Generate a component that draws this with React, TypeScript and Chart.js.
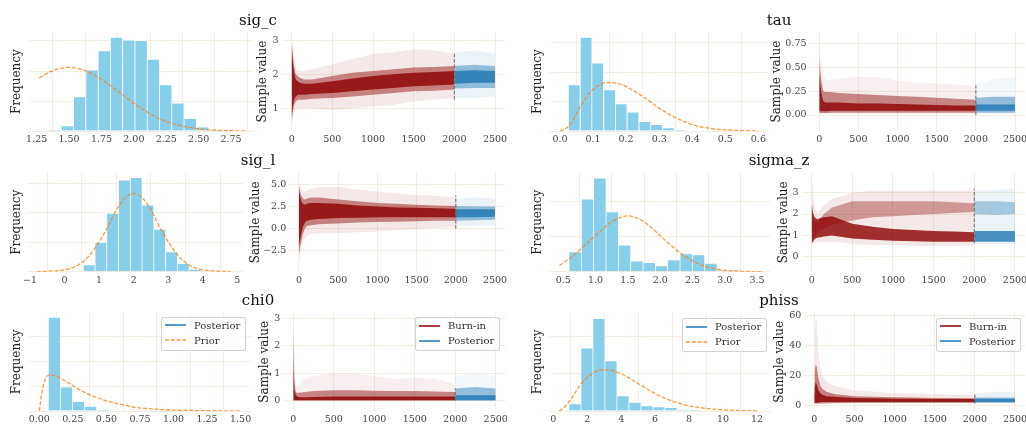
import React, { useEffect, useRef } from "react";
import { Chart, registerables } from "chart.js";

Chart.register(...registerables);

const SERIF = "'DejaVu Serif', 'Liberation Serif', serif";
Chart.defaults.font.family = SERIF;

const SKY = "rgb(135,206,235)";
const PRIOR_COLOR = "rgba(255,127,14,0.8)";
const BURN_RGB = "139,0,0";
const POST_RGB = "31,119,180";
const GRID = "rgba(232,222,196,0.5)";
const TICK = "#444";

const TITLES = ["sig_c", "tau", "sig_l", "sigma_z", "chi0", "phiss"];
const HIST_LEGEND = ["Posterior", "Prior"];
const TRACE_LEGEND = ["Burn-in", "Posterior"];

// ---------- histogram bins (centres) and counts ----------
const SIG_C_BINS = [1.392, 1.487, 1.582, 1.677, 1.772, 1.866, 1.961, 2.056, 2.151, 2.246, 2.34, 2.435, 2.53, 2.625, 2.72];
const SIG_C_COUNTS = [3, 17, 114, 203, 267, 312, 303, 301, 239, 154, 93, 41, 13, 3, 2];
const SIG_C_PRIOR_X = [1.27, 1.32, 1.38, 1.44, 1.5, 1.56, 1.62, 1.7, 1.8, 1.9, 2.0, 2.1, 2.2, 2.3, 2.4, 2.5, 2.6, 2.7, 2.8, 2.87];
const SIG_C_PRIOR_Y = [177, 190, 202, 209, 212, 209, 202, 186, 157, 125, 92, 64, 41, 25, 14, 7, 3.5, 1.6, 0.7, 0.4];

const TAU_BINS = [0.043, 0.079, 0.114, 0.15, 0.185, 0.221, 0.257, 0.292, 0.328, 0.363];
const TAU_COUNTS = [157, 319, 231, 140, 92, 64, 32, 22, 11, 3];
const TAU_PRIOR_X = [0, 0.02, 0.04, 0.06, 0.08, 0.1, 0.12, 0.14, 0.16, 0.18, 0.2, 0.23, 0.26, 0.3, 0.34, 0.38, 0.42, 0.46, 0.5, 0.55, 0.6];
const TAU_PRIOR_Y = [0, 10, 38, 80, 115, 141, 157, 165, 165, 160, 151, 132, 110, 78, 51, 30, 16, 8, 4, 1.5, 0.5];

const SIG_L_BINS = [0.713, 1.053, 1.393, 1.733, 2.073, 2.413, 2.753, 3.093, 3.433, 3.773, 4.113];
const SIG_L_COUNTS = [23, 100, 198, 311, 320, 226, 144, 67, 28, 8, 3];
const SIG_L_PRIOR_X = [-0.8, -0.5, -0.2, 0.1, 0.4, 0.7, 1.0, 1.25, 1.5, 1.75, 2.0, 2.25, 2.5, 2.75, 3.0, 3.3, 3.6, 3.9, 4.2, 4.5, 4.8];
const SIG_L_PRIOR_Y = [0.5, 1.5, 4, 9, 23, 53, 102, 152, 210, 250, 266, 250, 210, 152, 102, 53, 23, 9, 4, 1.5, 0.5];

const SIGMA_Z_BINS = [0.684, 0.875, 1.066, 1.257, 1.448, 1.639, 1.83, 2.021, 2.212, 2.403, 2.594, 2.785, 2.976, 3.167, 3.358];
const SIGMA_Z_COUNTS = [57, 208, 268, 171, 76, 30, 26, 17, 34, 51, 48, 24, 3, 3, 1];
const SIGMA_Z_PRIOR_X = [0.44, 0.6, 0.8, 1.0, 1.2, 1.35, 1.5, 1.65, 1.8, 2.0, 2.2, 2.4, 2.6, 2.8, 3.0, 3.2, 3.4, 3.6];
const SIGMA_Z_PRIOR_Y = [18, 38, 70, 103, 136, 153, 160, 153, 136, 103, 70, 42, 22, 10, 4, 1.5, 0.5, 0.2];

const CHI0_BINS = [0.112, 0.202, 0.292, 0.382, 0.473, 0.563];
const CHI0_COUNTS = [378, 96, 38, 19, 4, 2];
const CHI0_PRIOR_X = [0, 0.015, 0.03, 0.05, 0.08, 0.11, 0.15, 0.2, 0.25, 0.3, 0.35, 0.4, 0.5, 0.6, 0.7, 0.8, 0.9, 1.0, 1.1, 1.2, 1.35, 1.5];
const CHI0_PRIOR_Y = [0, 60, 105, 135, 146, 144, 135, 119, 102, 86, 72, 60, 41, 28, 16, 10, 6.5, 3.5, 2.5, 1.6, 0.9, 0.5];

const PHISS_BINS = [1.277, 1.984, 2.69, 3.397, 4.104, 4.811, 5.518, 6.225, 6.932, 7.639, 8.346];
const PHISS_COUNTS = [19, 169, 249, 135, 41, 23, 14, 11, 9, 3, 2];
const PHISS_PRIOR_X = [0.35, 0.7, 1.0, 1.3, 1.6, 2.0, 2.4, 2.8, 3.2, 3.6, 4.0, 4.5, 5.0, 5.5, 6.0, 6.5, 7.0, 8.0, 9.0, 10.0, 11.0, 12.0];
const PHISS_PRIOR_Y = [0, 12, 30, 50, 70, 90, 104, 111, 111, 107, 100, 88, 74, 60, 47, 36, 27, 14, 7, 3, 1.3, 0.5];

// ---------- trace envelopes: iterations and band limits ----------
const BURN_ITERS = [0, 5, 15, 30, 50, 75, 100, 150, 250, 500, 750, 1000, 1250, 1500, 1750, 2000];
const POST_ITERS = [2000, 2250, 2500];

const SIG_C_BURN_OUTER_LO = [0.45, 0.5, 0.7, 0.9, 1.0, 1.0, 1.0, 1.0, 1.0, 0.95, 1.0, 1.05, 1.1, 1.2, 1.25, 1.3];
const SIG_C_BURN_OUTER_HI = [3.1, 3.05, 2.8, 2.5, 2.2, 2.1, 2.1, 2.1, 2.15, 2.3, 2.45, 2.6, 2.65, 2.75, 2.7, 2.6];
const SIG_C_BURN_MID_LO = [0.6, 0.7, 0.9, 1.1, 1.2, 1.25, 1.25, 1.25, 1.28, 1.3, 1.35, 1.4, 1.45, 1.5, 1.52, 1.55];
const SIG_C_BURN_MID_HI = [2.95, 2.85, 2.55, 2.25, 2.0, 1.95, 1.9, 1.85, 1.85, 1.95, 2.05, 2.1, 2.15, 2.2, 2.22, 2.25];
const SIG_C_BURN_CORE_LO = [0.75, 0.85, 1.05, 1.25, 1.35, 1.4, 1.4, 1.4, 1.42, 1.45, 1.5, 1.55, 1.6, 1.65, 1.67, 1.7];
const SIG_C_BURN_CORE_HI = [2.8, 2.65, 2.35, 2.05, 1.85, 1.8, 1.75, 1.72, 1.72, 1.8, 1.88, 1.95, 2.0, 2.05, 2.07, 2.1];
const SIG_C_POST_OUTER_LO = [1.3, 1.3, 1.35];
const SIG_C_POST_OUTER_HI = [2.65, 2.7, 2.6];
const SIG_C_POST_MID_LO = [1.58, 1.6, 1.6];
const SIG_C_POST_MID_HI = [2.25, 2.28, 2.25];
const SIG_C_POST_CORE_LO = [1.72, 1.75, 1.75];
const SIG_C_POST_CORE_HI = [2.1, 2.12, 2.1];
const SIG_C_VLINE = [1.25, 2.65];

const TAU_BURN_OUTER_LO = [0.01, 0.01, 0.01, 0.01, 0.01, 0.01, 0.01, 0.01, 0.01, 0.01, 0.01, 0.01, 0.01, 0.01, 0.01, 0.01];
const TAU_BURN_OUTER_HI = [0.72, 0.7, 0.65, 0.55, 0.42, 0.38, 0.37, 0.37, 0.38, 0.4, 0.4, 0.36, 0.34, 0.33, 0.32, 0.3];
const TAU_BURN_MID_LO = [0.02, 0.02, 0.02, 0.02, 0.02, 0.02, 0.02, 0.025, 0.025, 0.025, 0.025, 0.025, 0.025, 0.025, 0.025, 0.025];
const TAU_BURN_MID_HI = [0.6, 0.55, 0.45, 0.35, 0.25, 0.24, 0.24, 0.24, 0.23, 0.22, 0.21, 0.2, 0.19, 0.18, 0.17, 0.16];
const TAU_BURN_CORE_LO = [0.04, 0.04, 0.04, 0.04, 0.04, 0.04, 0.04, 0.045, 0.045, 0.045, 0.045, 0.045, 0.045, 0.045, 0.045, 0.045];
const TAU_BURN_CORE_HI = [0.45, 0.4, 0.3, 0.22, 0.15, 0.13, 0.13, 0.13, 0.13, 0.12, 0.12, 0.115, 0.11, 0.105, 0.1, 0.1];
const TAU_POST_OUTER_LO = [0.01, 0.01, 0.01];
const TAU_POST_OUTER_HI = [0.33, 0.38, 0.4];
const TAU_POST_MID_LO = [0.025, 0.025, 0.025];
const TAU_POST_MID_HI = [0.18, 0.19, 0.19];
const TAU_POST_CORE_LO = [0.045, 0.045, 0.045];
const TAU_POST_CORE_HI = [0.11, 0.11, 0.11];
const TAU_VLINE = [0.0, 0.31];

const SIG_L_BURN_OUTER_LO = [-3.7, -3.5, -3.0, -2.3, -1.5, -1.0, -0.8, -0.6, -0.5, -0.5, -0.4, -0.3, -0.2, 0.0, 0.1, 0.2];
const SIG_L_BURN_OUTER_HI = [5.6, 5.4, 5.0, 4.5, 4.2, 4.2, 4.3, 4.5, 4.7, 4.7, 4.4, 4.2, 4.0, 3.8, 3.7, 3.5];
const SIG_L_BURN_MID_LO = [-2.8, -2.5, -2.0, -1.4, -0.6, 0.0, 0.3, 0.4, 0.5, 0.6, 0.7, 0.75, 0.8, 0.85, 0.9, 0.9];
const SIG_L_BURN_MID_HI = [4.8, 4.6, 4.2, 3.7, 3.4, 3.3, 3.4, 3.5, 3.5, 3.3, 3.1, 2.9, 2.8, 2.7, 2.6, 2.55];
const SIG_L_BURN_CORE_LO = [-2.0, -1.7, -1.2, -0.6, 0.2, 0.7, 0.9, 1.0, 1.1, 1.2, 1.25, 1.3, 1.3, 1.3, 1.3, 1.3];
const SIG_L_BURN_CORE_HI = [4.2, 4.0, 3.6, 3.1, 2.8, 2.7, 2.8, 2.9, 2.9, 2.8, 2.6, 2.5, 2.4, 2.35, 2.3, 2.25];
const SIG_L_POST_OUTER_LO = [0.3, 0.3, 0.4];
const SIG_L_POST_OUTER_HI = [3.4, 3.5, 3.4];
const SIG_L_POST_MID_LO = [0.9, 0.95, 1.0];
const SIG_L_POST_MID_HI = [2.55, 2.5, 2.5];
const SIG_L_POST_CORE_LO = [1.3, 1.3, 1.35];
const SIG_L_POST_CORE_HI = [2.2, 2.2, 2.2];
const SIG_L_VLINE = [0.0, 3.75];

// sigma_z: "mid" is the upper mode, "core" the dense lower mode
const SIGMA_Z_BURN_OUTER_LO = [0.45, 0.5, 0.55, 0.6, 0.65, 0.7, 0.7, 0.7, 0.7, 0.6, 0.55, 0.55, 0.5, 0.5, 0.5, 0.55];
const SIGMA_Z_BURN_OUTER_HI = [3.8, 3.6, 3.0, 2.5, 2.2, 2.1, 2.2, 2.4, 2.7, 3.0, 3.1, 3.1, 3.1, 3.1, 3.1, 3.1];
const SIGMA_Z_BURN_MID_LO = [0.9, 0.9, 0.9, 1.0, 1.0, 1.1, 1.2, 1.3, 1.5, 1.7, 1.85, 1.9, 1.95, 2.0, 2.05, 2.1];
const SIGMA_Z_BURN_MID_HI = [2.2, 2.0, 1.8, 1.7, 1.6, 1.6, 1.75, 2.0, 2.3, 2.6, 2.6, 2.6, 2.6, 2.6, 2.55, 2.5];
const SIGMA_Z_BURN_CORE_LO = [0.6, 0.65, 0.7, 0.8, 0.85, 0.9, 0.9, 0.95, 1.0, 0.85, 0.8, 0.75, 0.72, 0.7, 0.7, 0.7];
const SIGMA_Z_BURN_CORE_HI = [2.6, 2.4, 2.1, 1.9, 1.8, 1.75, 1.8, 1.85, 1.9, 1.55, 1.4, 1.3, 1.25, 1.2, 1.18, 1.15];
const SIGMA_Z_POST_OUTER_LO = [0.6, 0.6, 0.6];
const SIGMA_Z_POST_OUTER_HI = [3.1, 3.1, 3.2];
const SIGMA_Z_POST_MID_LO = [2.0, 1.95, 2.0];
const SIGMA_Z_POST_MID_HI = [2.6, 2.6, 2.55];
const SIGMA_Z_POST_CORE_LO = [0.7, 0.7, 0.7];
const SIGMA_Z_POST_CORE_HI = [1.2, 1.2, 1.2];
const SIGMA_Z_VLINE = [0.63, 3.2];

const CHI0_BURN_OUTER_LO = [0, 0, 0, 0, 0, 0, 0, 0, 0, 0, 0, 0, 0, 0, 0, 0];
const CHI0_BURN_OUTER_HI = [3.1, 2.4, 1.2, 0.6, 0.55, 0.6, 0.7, 0.8, 0.9, 1.0, 1.0, 0.9, 0.8, 0.85, 0.8, 0.6];
const CHI0_BURN_MID_LO = [0.005, 0.005, 0.005, 0.005, 0.005, 0.005, 0.005, 0.005, 0.005, 0.005, 0.005, 0.005, 0.005, 0.005, 0.005, 0.005];
const CHI0_BURN_MID_HI = [2.6, 1.7, 0.65, 0.32, 0.28, 0.3, 0.3, 0.32, 0.35, 0.38, 0.38, 0.36, 0.35, 0.35, 0.34, 0.32];
const CHI0_BURN_CORE_LO = [0.02, 0.02, 0.02, 0.02, 0.02, 0.02, 0.02, 0.02, 0.02, 0.02, 0.02, 0.02, 0.02, 0.02, 0.02, 0.02];
const CHI0_BURN_CORE_HI = [2.0, 1.1, 0.4, 0.2, 0.15, 0.13, 0.13, 0.13, 0.14, 0.15, 0.15, 0.15, 0.15, 0.15, 0.15, 0.15];
const CHI0_POST_OUTER_LO = [0, 0, 0];
const CHI0_POST_OUTER_HI = [0.9, 1.0, 0.9];
const CHI0_POST_MID_LO = [0.005, 0.005, 0.005];
const CHI0_POST_MID_HI = [0.45, 0.5, 0.45];
const CHI0_POST_CORE_LO = [0.02, 0.02, 0.02];
const CHI0_POST_CORE_HI = [0.2, 0.2, 0.2];
const CHI0_VLINE = [0.0, 0.45];

const PHISS_BURN_OUTER_LO = [0.5, 0.5, 0.5, 0.5, 0.5, 0.5, 0.5, 0.8, 0.8, 1, 1, 1, 1, 1, 1, 1];
const PHISS_BURN_OUTER_HI = [20, 40, 55, 58, 35, 25, 20, 16, 13, 10, 9, 8, 8, 7.5, 7, 7];
const PHISS_BURN_MID_LO = [1, 1, 1, 1, 1, 1, 1, 1.2, 1.3, 1.5, 1.5, 1.5, 1.5, 1.5, 1.5, 1.5];
const PHISS_BURN_MID_HI = [12, 22, 27, 26, 18, 13, 11, 9, 7.5, 6, 5.5, 5.2, 5, 4.8, 4.7, 4.6];
const PHISS_BURN_CORE_LO = [1.5, 1.5, 1.5, 1.5, 1.5, 2, 2, 2, 2, 2, 2, 2, 2, 2, 2, 2];
const PHISS_BURN_CORE_HI = [8, 12, 15, 14, 10, 8, 7, 6, 5.5, 4.8, 4.5, 4.3, 4.2, 4.1, 4.0, 4.0];
const PHISS_POST_OUTER_LO = [1, 1, 1];
const PHISS_POST_OUTER_HI = [8, 9, 9];
const PHISS_POST_MID_LO = [1.5, 1.5, 1.5];
const PHISS_POST_MID_HI = [5, 5, 5];
const PHISS_POST_CORE_LO = [2, 2, 2];
const PHISS_POST_CORE_HI = [4.2, 4.2, 4.2];
const PHISS_VLINE = [1.0, 8.0];

// ---------- helpers ----------
const pts = (xs: number[], ys: number[]) => xs.map((x, i) => ({ x, y: ys[i] }));

function fmt(v: number, d: number) {
  const n = Math.abs(v) < 1e-9 ? 0 : Number(v);
  const s = n.toFixed(d);
  return s.startsWith("-") ? "\u2212" + s.slice(1) : s;
}

// tick values at multiples of step inside [min, max]
function stepTicks(min: number, max: number, step: number) {
  const out: { value: number }[] = [];
  for (let k = Math.ceil(min / step - 1e-9); k * step <= max + 1e-9; k++) {
    out.push({ value: Number((k * step).toFixed(6)) });
  }
  return out;
}

function axes(g: any, o: any) {
  const tickFont = { family: SERIF, size: 9.5 };
  const grid = { color: GRID, lineWidth: 1, drawTicks: false };
  return {
    x: {
      type: "linear",
      min: o.xMin,
      max: o.xMax,
      offset: false,
      afterBuildTicks: (s: any) => {
        s.ticks = stepTicks(o.xMin, o.xMax, o.xStep);
      },
      afterFit: (s: any) => {
        s.height = g.xAxisH;
      },
      grid,
      border: { display: false },
      ticks: {
        autoSkip: false,
        maxRotation: 0,
        padding: 3,
        color: TICK,
        font: tickFont,
        callback: (v: any) => fmt(v, o.xDec),
      },
    },
    y: {
      type: "linear",
      min: o.yMin,
      max: o.yMax,
      afterBuildTicks: (s: any) => {
        s.ticks = stepTicks(o.yMin, o.yMax, o.yStep);
      },
      afterFit: (s: any) => {
        s.width = g.yAxisW;
      },
      grid,
      border: { display: false },
      ticks: {
        display: o.yLabels,
        autoSkip: false,
        padding: 3,
        color: TICK,
        font: tickFont,
        callback: (v: any) => fmt(v, o.yDec),
      },
      title: {
        display: true,
        text: o.yTitle,
        color: "#222",
        font: { family: SERIF, size: 12 },
        padding: { top: g.titlePad, bottom: 0 },
      },
    },
  };
}

function baseOptions(g: any, scales: any) {
  return {
    responsive: false,
    animation: false,
    devicePixelRatio: 1,
    layout: { padding: { top: g.padTop, right: g.padRight, left: 0, bottom: 0 } },
    plugins: { legend: { display: false }, tooltip: { enabled: false } },
    scales,
  };
}

function histConfig(h: any) {
  return (g: any) => ({
    type: "bar",
    data: {
      datasets: [
        {
          type: "line",
          data: pts(h.priorX, h.priorY),
          borderColor: PRIOR_COLOR,
          borderWidth: 1.3,
          borderDash: [4, 1.8],
          pointRadius: 0,
          fill: false,
          cubicInterpolationMode: "monotone",
          order: 0,
        },
        {
          type: "bar",
          data: pts(h.bins, h.counts),
          backgroundColor: SKY,
          borderColor: "rgba(255,255,255,0.9)",
          borderWidth: { left: 0.7, right: 0.7, top: 0.7, bottom: 0 },
          barPercentage: 1,
          categoryPercentage: 1,
          order: 1,
        },
      ],
    },
    options: baseOptions(
      g,
      axes(g, { ...h, yMin: 0, yStep: 100, yLabels: false, yTitle: "Frequency" })
    ),
  });
}

function traceConfig(t: any) {
  return (g: any) => {
    const datasets: any[] = [
      {
        data: pts([2000, 2000], t.vline),
        borderColor: "rgba(85,85,85,0.85)",
        borderWidth: 1,
        borderDash: [3.7, 1.6],
        pointRadius: 0,
        fill: false,
        order: 0,
      },
    ];
    const addBand = (xs: number[], lo: number[], hi: number[], rgb: string, a: number, order: number) => {
      datasets.push({ data: pts(xs, lo), borderColor: "transparent", borderWidth: 0, pointRadius: 0, fill: false, order });
      datasets.push({
        data: pts(xs, hi),
        borderColor: "transparent",
        borderWidth: 0,
        pointRadius: 0,
        fill: "-1",
        backgroundColor: `rgba(${rgb},${a})`,
        order,
      });
    };
    t.post.forEach((b: number[][], k: number) => addBand(POST_ITERS, b[0], b[1], POST_RGB, t.alphas[k], 1));
    t.burn.forEach((b: number[][], k: number) => addBand(BURN_ITERS, b[0], b[1], BURN_RGB, t.alphas[k], 2));
    return {
      type: "line",
      data: { datasets },
      options: baseOptions(
        g,
        axes(g, { ...t, xMin: -125, xMax: 2625, xStep: 500, xDec: 0, yLabels: true, yTitle: "Sample value" })
      ),
    };
  };
}

// ---------- panel layout ----------
const ROW1 = { y0: 32.3, y1: 131 };
const ROW2 = { y0: 172.8, y1: 271.7 };
const ROW3 = { y0: 312.6, y1: 411 };
const STD_ALPHAS = [0.09, 0.45, 0.8];
const SPARSE_ALPHAS = [0.06, 0.45, 0.8];

const PANELS: any[] = [
  {
    rect: { x0: 28.5, x1: 253.1, ...ROW1 }, titleX: 17,
    make: histConfig({ bins: SIG_C_BINS, counts: SIG_C_COUNTS, priorX: SIG_C_PRIOR_X, priorY: SIG_C_PRIOR_Y, xMin: 1.187, xMax: 2.92, xStep: 0.25, xDec: 2, yMax: 329 }),
  },
  {
    rect: { x0: 281.5, x1: 505.2, ...ROW1 }, titleX: 263,
    make: traceConfig({
      burn: [[SIG_C_BURN_OUTER_LO, SIG_C_BURN_OUTER_HI], [SIG_C_BURN_MID_LO, SIG_C_BURN_MID_HI], [SIG_C_BURN_CORE_LO, SIG_C_BURN_CORE_HI]],
      post: [[SIG_C_POST_OUTER_LO, SIG_C_POST_OUTER_HI], [SIG_C_POST_MID_LO, SIG_C_POST_MID_HI], [SIG_C_POST_CORE_LO, SIG_C_POST_CORE_HI]],
      alphas: STD_ALPHAS, vline: SIG_C_VLINE, yMin: 0.33, yMax: 3.24, yStep: 1, yDec: 0,
    }),
  },
  {
    rect: { x0: 549.4, x1: 768.3, ...ROW1 }, titleX: 537.5,
    make: histConfig({ bins: TAU_BINS, counts: TAU_COUNTS, priorX: TAU_PRIOR_X, priorY: TAU_PRIOR_Y, xMin: -0.032, xMax: 0.63, xStep: 0.1, xDec: 1, yMax: 336 }),
  },
  {
    rect: { x0: 809.5, x1: 1024.8, ...ROW1 }, titleX: 777,
    make: traceConfig({
      burn: [[TAU_BURN_OUTER_LO, TAU_BURN_OUTER_HI], [TAU_BURN_MID_LO, TAU_BURN_MID_HI], [TAU_BURN_CORE_LO, TAU_BURN_CORE_HI]],
      post: [[TAU_POST_OUTER_LO, TAU_POST_OUTER_HI], [TAU_POST_MID_LO, TAU_POST_MID_HI], [TAU_POST_CORE_LO, TAU_POST_CORE_HI]],
      alphas: SPARSE_ALPHAS, vline: TAU_VLINE, yMin: -0.167, yMax: 0.865, yStep: 0.25, yDec: 2,
    }),
  },
  {
    rect: { x0: 28.3, x1: 243.2, ...ROW2 }, titleX: 17,
    make: histConfig({ bins: SIG_L_BINS, counts: SIG_L_COUNTS, priorX: SIG_L_PRIOR_X, priorY: SIG_L_PRIOR_Y, xMin: -1.05, xMax: 5.17, xStep: 1, xDec: 0, yMax: 336 }),
  },
  {
    rect: { x0: 289.2, x1: 504.8, ...ROW2 }, titleX: 255.8,
    make: traceConfig({
      burn: [[SIG_L_BURN_OUTER_LO, SIG_L_BURN_OUTER_HI], [SIG_L_BURN_MID_LO, SIG_L_BURN_MID_HI], [SIG_L_BURN_CORE_LO, SIG_L_BURN_CORE_HI]],
      post: [[SIG_L_POST_OUTER_LO, SIG_L_POST_OUTER_HI], [SIG_L_POST_MID_LO, SIG_L_POST_MID_HI], [SIG_L_POST_CORE_LO, SIG_L_POST_CORE_HI]],
      alphas: STD_ALPHAS, vline: SIG_L_VLINE, yMin: -4.83, yMax: 6.29, yStep: 2.5, yDec: 1,
    }),
  },
  {
    rect: { x0: 549.3, x1: 770.0, ...ROW2 }, titleX: 537.5,
    make: histConfig({ bins: SIGMA_Z_BINS, counts: SIGMA_Z_COUNTS, priorX: SIGMA_Z_PRIOR_X, priorY: SIGMA_Z_PRIOR_Y, xMin: 0.283, xMax: 3.7, xStep: 0.5, xDec: 1, yMax: 283 }),
  },
  {
    rect: { x0: 801.5, x1: 1025.1, ...ROW2 }, titleX: 784,
    make: traceConfig({
      burn: [[SIGMA_Z_BURN_OUTER_LO, SIGMA_Z_BURN_OUTER_HI], [SIGMA_Z_BURN_MID_LO, SIGMA_Z_BURN_MID_HI], [SIGMA_Z_BURN_CORE_LO, SIGMA_Z_BURN_CORE_HI]],
      post: [[SIGMA_Z_POST_OUTER_LO, SIGMA_Z_POST_OUTER_HI], [SIGMA_Z_POST_MID_LO, SIGMA_Z_POST_MID_HI], [SIGMA_Z_POST_CORE_LO, SIGMA_Z_POST_CORE_HI]],
      alphas: [0.09, 0.35, 0.8], vline: SIGMA_Z_VLINE, yMin: -0.7, yMax: 3.93, yStep: 1, yDec: 0,
    }),
  },
  {
    rect: { x0: 28.6, x1: 250.7, ...ROW3 }, titleX: 17,
    make: histConfig({ bins: CHI0_BINS, counts: CHI0_COUNTS, priorX: CHI0_PRIOR_X, priorY: CHI0_PRIOR_Y, xMin: -0.08, xMax: 1.575, xStep: 0.25, xDec: 2, yMax: 397 }),
    legend: { left: 161, top: 316.7, labels: HIST_LEGEND, colors: [`rgb(${POST_RGB})`, PRIOR_COLOR], dashed: [false, true] },
  },
  {
    rect: { x0: 283.2, x1: 505.8, ...ROW3 }, titleX: 265,
    make: traceConfig({
      burn: [[CHI0_BURN_OUTER_LO, CHI0_BURN_OUTER_HI], [CHI0_BURN_MID_LO, CHI0_BURN_MID_HI], [CHI0_BURN_CORE_LO, CHI0_BURN_CORE_HI]],
      post: [[CHI0_POST_OUTER_LO, CHI0_POST_OUTER_HI], [CHI0_POST_MID_LO, CHI0_POST_MID_HI], [CHI0_POST_CORE_LO, CHI0_POST_CORE_HI]],
      alphas: SPARSE_ALPHAS, vline: CHI0_VLINE, yMin: -0.375, yMax: 3.21, yStep: 1, yDec: 0,
    }),
    legend: { left: 415, top: 317, labels: TRACE_LEGEND, colors: [`rgb(${BURN_RGB})`, `rgb(${POST_RGB})`], dashed: [false, false] },
  },
  {
    rect: { x0: 549.3, x1: 770.9, ...ROW3 }, titleX: 537.5,
    make: histConfig({ bins: PHISS_BINS, counts: PHISS_COUNTS, priorX: PHISS_PRIOR_X, priorY: PHISS_PRIOR_Y, xMin: -0.235, xMax: 12.82, xStep: 2, xDec: 0, yMax: 265 }),
    legend: { left: 682, top: 318.3, labels: HIST_LEGEND, colors: [`rgb(${POST_RGB})`, PRIOR_COLOR], dashed: [false, true] },
  },
  {
    rect: { x0: 804.3, x1: 1025, ...ROW3 }, titleX: 780,
    make: traceConfig({
      burn: [[PHISS_BURN_OUTER_LO, PHISS_BURN_OUTER_HI], [PHISS_BURN_MID_LO, PHISS_BURN_MID_HI], [PHISS_BURN_CORE_LO, PHISS_BURN_CORE_HI]],
      post: [[PHISS_POST_OUTER_LO, PHISS_POST_OUTER_HI], [PHISS_POST_MID_LO, PHISS_POST_MID_HI], [PHISS_POST_CORE_LO, PHISS_POST_CORE_HI]],
      alphas: STD_ALPHAS, vline: PHISS_VLINE, yMin: -4.0, yMax: 62.1, yStep: 20, yDec: 0,
    }),
    legend: { left: 936, top: 317.7, labels: TRACE_LEGEND, colors: [`rgb(${BURN_RGB})`, `rgb(${POST_RGB})`], dashed: [false, false] },
  },
];

const TITLE_POS = [
  { x: 258, y: 19.5 },
  { x: 779, y: 19.5 },
  { x: 258, y: 160 },
  { x: 779, y: 160 },
  { x: 258, y: 300 },
  { x: 779, y: 300 },
];

// ---------- components ----------
function PlotCanvas({ rect, titleX, make }: any) {
  const ref = useRef<HTMLCanvasElement | null>(null);
  const left = Math.round(titleX - 10);
  const top = Math.round(rect.y0 - 9);
  const width = Math.ceil(rect.x1 + 16 - left);
  const height = Math.ceil(rect.y1 + 22 - top);
  useEffect(() => {
    const g = {
      yAxisW: rect.x0 - left,
      xAxisH: top + height - rect.y1,
      padTop: rect.y0 - top,
      padRight: left + width - rect.x1,
      titlePad: titleX - left - 7.2,
    };
    const chart = new Chart(ref.current as HTMLCanvasElement, make(g) as any);
    return () => chart.destroy();
  }, []);
  return (
    <canvas
      ref={ref}
      width={width}
      height={height}
      style={{ position: "absolute", left, top, width, height }}
    />
  );
}

function Legend({ left, top, labels, colors, dashed }: any) {
  return (
    <div
      style={{
        position: "absolute",
        left,
        top,
        width: 85,
        height: 34,
        boxSizing: "border-box",
        border: "1px solid rgba(200,200,200,0.8)",
        borderRadius: 3,
        background: "rgba(255,255,255,0.8)",
      }}
    >
      {labels.map((label: string, i: number) => (
        <div
          key={label}
          style={{ position: "absolute", left: 0, top: i * 15, height: 15, width: 83, display: "flex", alignItems: "center" }}
        >
          <svg width={21} height={4} style={{ marginLeft: 2.5, flex: "none" }}>
            <line
              x1={0}
              y1={2}
              x2={21}
              y2={2}
              stroke={colors[i]}
              strokeWidth={1.5}
              strokeDasharray={dashed[i] ? "4 1.8" : undefined}
            />
          </svg>
          <span style={{ marginLeft: 8.5, font: `10px ${SERIF}`, color: "#333", whiteSpace: "nowrap" }}>{label}</span>
        </div>
      ))}
    </div>
  );
}

export default function App() {
  return (
    <div
      style={{
        position: "absolute",
        left: 0,
        top: 0,
        width: 1026,
        height: 425,
        overflow: "hidden",
        background: "#fff",
      }}
    >
      {PANELS.map((p, i) => (
        <PlotCanvas key={i} rect={p.rect} titleX={p.titleX} make={p.make} />
      ))}
      {PANELS.filter((p) => p.legend).map((p, i) => (
        <Legend key={i} {...p.legend} />
      ))}
      {TITLES.map((t, i) => (
        <div
          key={t}
          style={{
            position: "absolute",
            left: TITLE_POS[i].x,
            top: TITLE_POS[i].y - 9,
            transform: "translateX(-50%)",
            font: `15px ${SERIF}`,
            lineHeight: "18px",
            color: "#111",
            whiteSpace: "nowrap",
          }}
        >
          {t}
        </div>
      ))}
    </div>
  );
}
